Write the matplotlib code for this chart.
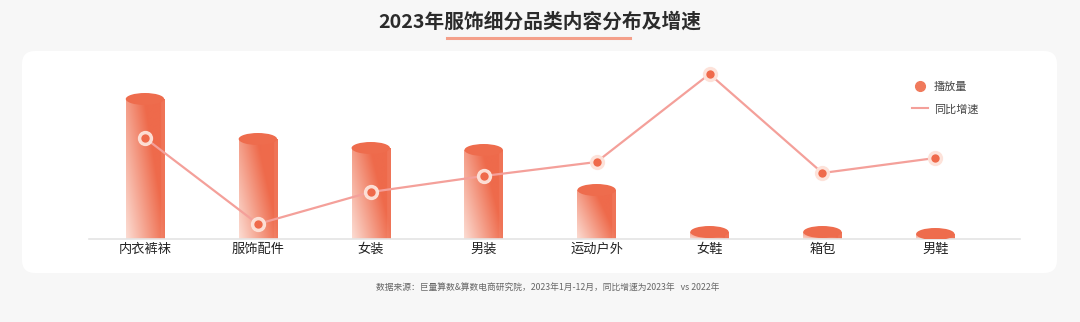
import numpy as np
import matplotlib
matplotlib.use("Agg")
import matplotlib.pyplot as plt
from matplotlib.patches import Ellipse, FancyBboxPatch
from matplotlib.lines import Line2D
from matplotlib.transforms import IdentityTransform
from matplotlib.colors import to_rgb

plt.rcParams['font.family'] = ['Noto Sans CJK SC', 'DejaVu Sans']

categories = ['内衣裤袜', '服饰配件', '女装', '男装', '运动户外', '女鞋', '箱包', '男鞋']
play_volume = [140, 100, 91, 89, 49, 7, 7, 5]       # 播放量 (relative)
yoy_growth = [101, 15, 47, 63, 77, 165, 66, 81]     # 同比增速 (relative)

title = '2023年服饰细分品类内容分布及增速'
source = '数据来源：巨量算数&算数电商研究院，2023年1月-12月，同比增速为2023年   vs 2022年'

W, H = 1080, 322
fig = plt.figure(figsize=(W / 100, H / 100), dpi=100)
fig.patch.set_facecolor('#f7f7f7')

# white rounded panel
panel = FancyBboxPatch((22, H - 273), 1035, 222,
                       boxstyle='round,pad=0,rounding_size=13',
                       transform=IdentityTransform(),
                       facecolor='white', edgecolor='none', zorder=0)
fig.add_artist(panel)

fig.text(540 / W, 1 - 22 / H, title, ha='center', va='center',
         fontsize=14.2, fontweight='bold', color='#2b2b2b')
fig.add_artist(Line2D([447 / W, 630 / W], [1 - 38 / H] * 2,
                      transform=fig.transFigure, color='#f4a08a', lw=2.2))
fig.text(548 / W, 1 - 287 / H, source, ha='center', va='center',
         fontsize=6.3, color='#666666')

ax = fig.add_axes([88.5 / W, (H - 239) / H, (1020 - 88.5) / W, 180 / H])
ax.set_facecolor('none')
x = np.arange(len(categories))
bar_w = 0.34
light = np.array(to_rgb('#fde9e2'))
dark = np.array(to_rgb('#ee6a4b'))

for xi, h in zip(x, play_volume):
    u = np.linspace(0, 1, 60)[None, :]
    v = np.linspace(1, 0, 100)[:, None]
    t = np.clip(0.1 + 0.85 * u + 0.5 * v, 0, 1)
    t = t * (1 - 0.08 * (u > 0.9))
    img = light + (dark - light) * t[..., None]
    ax.imshow(img, extent=[xi - bar_w / 2, xi + bar_w / 2, 0, h],
              aspect='auto', interpolation='bilinear', zorder=2)
    ax.add_patch(Ellipse((xi, h), bar_w, 12, facecolor='#ee6c4d',
                         edgecolor='none', zorder=3))

ax.set_xlim(-0.5, 7.75)
ax.set_ylim(0, 180)
ax.set_xticks(x)
ax.set_xticklabels(categories, fontsize=9.5, color='#222222')
ax.tick_params(axis='x', length=0, pad=3)
ax.set_yticks([])
for s in ['top', 'left', 'right']:
    ax.spines[s].set_visible(False)
ax.spines['bottom'].set_color('#e4e4e4')
ax.spines['bottom'].set_linewidth(1.2)

ax2 = ax.twinx()
ax2.set_ylim(0, 180)
ax2.set_yticks([])
for s in ax2.spines.values():
    s.set_visible(False)
ax2.plot(x, yoy_growth, color='#f4a09a', lw=1.6, zorder=4)
ax2.plot(x, yoy_growth, 'o', color='#fde2d9', markersize=10, alpha=0.95, zorder=5)
ax2.plot(x, yoy_growth, 'o', color='#ef6a4b', markersize=6,
         markeredgewidth=0, zorder=6)

handles = [Line2D([], [], marker='o', ls='none', color='#f07a5c', markersize=7),
           Line2D([], [], color='#f4a09a', lw=1.5)]
fig.legend(handles, ['播放量', '同比增速'], loc='upper left',
           bbox_to_anchor=(906 / W, 1 - 76 / H), frameon=False,
           fontsize=8, labelcolor='#444444', handlelength=1.5,
           handletextpad=0.5, labelspacing=1.1, borderpad=0)

fig.savefig('out.png', dpi=100, facecolor=fig.get_facecolor())
